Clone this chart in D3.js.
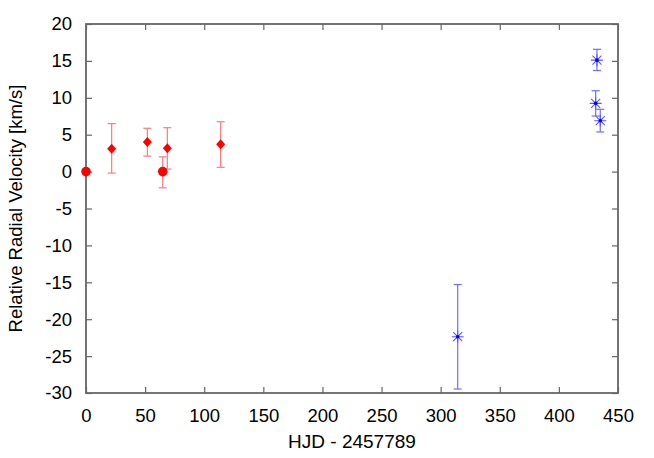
<!DOCTYPE html>
<html>
<head>
<meta charset="utf-8">
<script src="https://cdn.jsdelivr.net/npm/d3@7"></script>
<style>
  body { margin: 0; background: #fff; }
  svg text { font-family: "Liberation Sans", Arial, sans-serif; }
</style>
</head>
<body>
<svg id="chart" width="654" height="458"></svg>
<script>
// red series: circles (reference epochs) and diamonds
var redCircleX = [0, 64.9];
var redCircleY = [0, 0];
var redCircleLo = [0, -2.2];
var redCircleHi = [0, 2.0];

var redDiamondX = [21.7, 51.9, 68.8, 113.9];
var redDiamondY = [3.1, 4.0, 3.15, 3.7];
var redDiamondLo = [-0.2, 2.1, 0.35, 0.58];
var redDiamondHi = [6.5, 5.87, 5.95, 6.76];

// blue series: stars
var blueX = [314.4, 432.2, 431.1, 435.0];
var blueY = [-22.37, 15.1, 9.25, 6.9];
var blueLo = [-29.46, 13.7, 7.53, 5.37];
var blueHi = [-15.3, 16.57, 10.96, 8.44];

var xTicks = [0, 50, 100, 150, 200, 250, 300, 350, 400, 450];
var yTicks = [20, 15, 10, 5, 0, -5, -10, -15, -20, -25, -30];

const margin = {top: 24, right: 36, bottom: 65, left: 86},
  width = 654 - margin.left - margin.right,
  height = 458 - margin.top - margin.bottom;

const svg = d3.select("#chart").append("g")
  .attr("transform", `translate(${margin.left},${margin.top})`);

const x = d3.scaleLinear().domain([0, 450]).range([0, width]);
const y = d3.scaleLinear().domain([-30, 20]).range([height, 0]);

const axisColor = "#666";
const plain = d => String(d); // plain hyphen minus like the original

/** ticks on all four sides, pointing inward */
function styleAxis(g) {
  g.select(".domain").remove();
  g.selectAll(".tick line").attr("stroke", axisColor).attr("stroke-width", 1.2);
  g.selectAll(".tick text").attr("font-size", "18.5px").attr("fill", "#000");
}
svg.append("g").attr("transform", `translate(0,${height})`)
  .call(d3.axisBottom(x).tickValues(xTicks).tickSize(-6).tickPadding(16).tickFormat(plain))
  .call(styleAxis);
svg.append("g")
  .call(d3.axisTop(x).tickValues(xTicks).tickSize(-6).tickFormat(""))
  .call(styleAxis);
svg.append("g")
  .call(d3.axisLeft(y).tickValues(yTicks).tickSize(-6).tickPadding(14).tickFormat(plain))
  .call(styleAxis);
svg.append("g").attr("transform", `translate(${width},0)`)
  .call(d3.axisRight(y).tickValues(yTicks).tickSize(-6).tickFormat(""))
  .call(styleAxis);

svg.append("rect")
  .attr("width", width).attr("height", height)
  .attr("fill", "none").attr("stroke", axisColor).attr("stroke-width", 1.8);

/** error bars */
function errorBars(xs, lo, hi, color, cls) {
  var data = xs.map((d, i) => ({x: d, lo: lo[i], hi: hi[i]})).filter(d => d.hi > d.lo);
  var g = svg.selectAll("." + cls).data(data).join("g").attr("class", cls)
    .attr("stroke", color).attr("stroke-width", 1.2);
  g.append("line").attr("x1", d => x(d.x)).attr("x2", d => x(d.x))
    .attr("y1", d => y(d.lo)).attr("y2", d => y(d.hi));
  g.append("line").attr("x1", d => x(d.x) - 4).attr("x2", d => x(d.x) + 4)
    .attr("y1", d => y(d.lo)).attr("y2", d => y(d.lo));
  g.append("line").attr("x1", d => x(d.x) - 4).attr("x2", d => x(d.x) + 4)
    .attr("y1", d => y(d.hi)).attr("y2", d => y(d.hi));
}
errorBars(redCircleX, redCircleLo, redCircleHi, "#ff7a7a", "errRedC");
errorBars(redDiamondX, redDiamondLo, redDiamondHi, "#ff7a7a", "errRedD");
errorBars(blueX, blueLo, blueHi, "#7070ff", "errBlue");

/** red circles */
svg.selectAll(".redCircle")
  .data(redCircleX.map((d, i) => [d, redCircleY[i]]))
  .join("circle").attr("class", "redCircle")
  .attr("cx", d => x(d[0])).attr("cy", d => y(d[1]))
  .attr("r", 4.8).attr("fill", "#ff0000");

/** red diamonds */
svg.selectAll(".redDiamond")
  .data(redDiamondX.map((d, i) => [d, redDiamondY[i]]))
  .join("path").attr("class", "redDiamond")
  .attr("transform", d => `translate(${x(d[0])},${y(d[1])})`)
  .attr("d", "M0,-5L4.5,0L0,5L-4.5,0Z")
  .attr("fill", "#ff0000");

/** blue stars (+ and x) */
var stars = svg.selectAll(".blueStar")
  .data(blueX.map((d, i) => [d, blueY[i]]))
  .join("g").attr("class", "blueStar")
  .attr("transform", d => `translate(${x(d[0])},${y(d[1])})`)
  .attr("stroke", "#5a5aff").attr("stroke-width", 1.1);
stars.append("path").attr("d", "M-6,0H6M0,-6V6M-4.5,-4.5L4.5,4.5M-4.5,4.5L4.5,-4.5");
stars.append("circle").attr("r", 1.8).attr("fill", "#0000ff").attr("stroke", "none");

/** axis labels */
d3.select("#chart").append("text")
  .attr("x", margin.left + width / 2).attr("y", 448)
  .attr("text-anchor", "middle").attr("font-size", "19px")
  .text("HJD - 2457789");
d3.select("#chart").append("text")
  .attr("transform", `translate(22,${margin.top + height / 2}) rotate(-90)`)
  .attr("text-anchor", "middle").attr("font-size", "18.5px")
  .text("Relative Radial Velocity [km/s]");
</script>
</body>
</html>
